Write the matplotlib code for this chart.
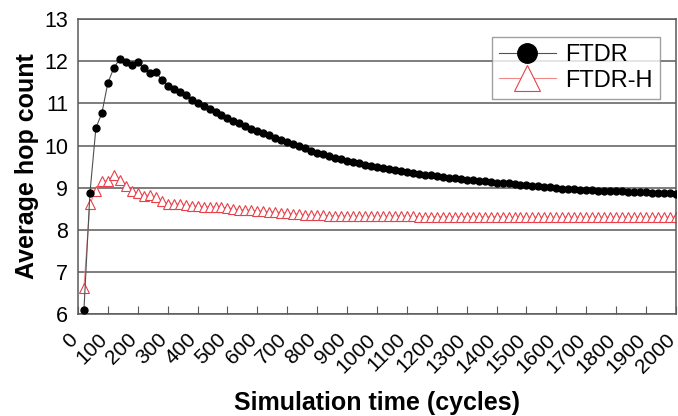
import matplotlib
matplotlib.use("Agg")
import matplotlib.pyplot as plt
import numpy as np

plt.rcParams['font.family'] = ['Liberation Sans', 'DejaVu Sans']

cycles = list(range(20, 2001, 20))

ftdr = [6.10, 8.87, 10.42, 10.77, 11.49, 11.84, 12.06, 11.99, 11.92, 11.99,
        11.84, 11.71, 11.75, 11.56, 11.41, 11.34, 11.26, 11.19, 11.09, 11.02,
        10.94, 10.87, 10.80, 10.73, 10.66, 10.59, 10.53, 10.46, 10.40, 10.35,
        10.29, 10.24, 10.18, 10.13, 10.08, 10.03, 9.98, 9.93, 9.88, 9.83,
        9.79, 9.75, 9.71, 9.68, 9.64, 9.61, 9.58, 9.55, 9.52, 9.49,
        9.47, 9.45, 9.42, 9.40, 9.37, 9.35, 9.33, 9.31, 9.29, 9.27,
        9.25, 9.24, 9.22, 9.21, 9.19, 9.18, 9.17, 9.15, 9.14, 9.12,
        9.11, 9.10, 9.09, 9.07, 9.06, 9.05, 9.04, 9.02, 9.01, 9.00,
        8.98, 8.97, 8.96, 8.95, 8.95, 8.94, 8.93, 8.92, 8.92, 8.91,
        8.91, 8.90, 8.90, 8.89, 8.89, 8.88, 8.88, 8.87, 8.87, 8.86]

ftdr_h = [6.63, 8.62, 8.93, 9.16, 9.16, 9.31, 9.19, 9.03, 8.93, 8.87,
          8.81, 8.83, 8.77, 8.69, 8.62, 8.62, 8.61, 8.59, 8.57, 8.56,
          8.55, 8.55, 8.54, 8.53, 8.52, 8.50, 8.48, 8.47, 8.46, 8.45,
          8.44, 8.43, 8.42, 8.41, 8.40, 8.38, 8.37, 8.36, 8.35, 8.34,
          8.34, 8.33, 8.33, 8.33, 8.32, 8.32, 8.32, 8.32, 8.32, 8.32,
          8.32, 8.32, 8.33, 8.33, 8.32, 8.32, 8.31, 8.31, 8.31, 8.31,
          8.31, 8.31, 8.31, 8.31, 8.31, 8.31, 8.31, 8.31, 8.31, 8.31,
          8.31, 8.30, 8.30, 8.30, 8.30, 8.30, 8.30, 8.30, 8.30, 8.30,
          8.30, 8.30, 8.30, 8.30, 8.30, 8.30, 8.30, 8.30, 8.30, 8.30,
          8.30, 8.30, 8.30, 8.30, 8.30, 8.30, 8.30, 8.30, 8.30, 8.30]

xticks = list(range(0, 2001, 100))
yticks = list(range(6, 14))

fig = plt.figure(figsize=(6.78, 4.16), dpi=100)
ax = fig.add_axes([0.115, 0.245, 0.882, 0.709])

grid_c = '#5a5a5a'
for y in yticks:
    ax.axhline(y, color=grid_c, lw=1.1, zorder=1)

ax.plot(cycles, ftdr, color='#505050', lw=0.8, marker='o', ms=5,
        mfc='black', mec='black', label='FTDR', zorder=3)
ax.plot(cycles, ftdr_h, color='#f08888', lw=0.8, marker='^', ms=6.5,
        mfc='white', mec='#e8404a', mew=0.8, label='FTDR-H', zorder=2)

ax.set_xlim(0, 2000)
ax.set_ylim(6, 13)
ax.set_xticks(xticks)
ax.set_xticklabels([str(v) for v in xticks], rotation=45, ha='right',
                   va='baseline', rotation_mode='anchor', fontsize=15)
ax.set_yticks(yticks)
ax.set_yticklabels([str(v) for v in yticks], fontsize=15.5)
ax.tick_params(axis='x', direction='in', length=6, color=grid_c, pad=19)
ax.tick_params(axis='y', length=0, pad=7)
for s in ax.spines.values():
    s.set_color(grid_c)
    s.set_linewidth(1.1)

ax.set_xlabel('Simulation time (cycles)', fontsize=18, fontweight='bold', labelpad=10.5)
ax.set_ylabel('Average hop count', fontsize=18, fontweight='bold', labelpad=4)

leg = ax.legend(loc='upper right', bbox_to_anchor=(0.973, 0.939), fontsize=17,
                markerscale=2.8, handlelength=2.4, frameon=True, fancybox=False,
                edgecolor='#888888', borderpad=0.3, labelspacing=0.15,
                handletextpad=0.4, borderaxespad=0)
leg.get_frame().set_linewidth(1.0)

fig.savefig('out.png', dpi=100, facecolor='white')
